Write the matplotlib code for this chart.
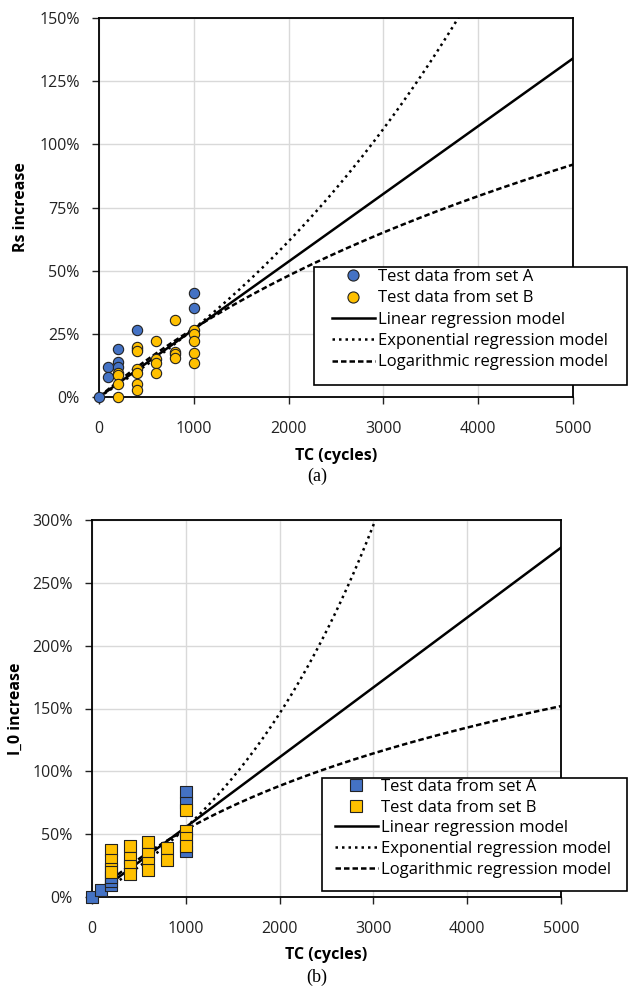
import numpy as np
import matplotlib
matplotlib.use('Agg')
from matplotlib import pyplot as plt
from matplotlib.patches import Rectangle
from matplotlib.ticker import FuncFormatter, MultipleLocator

plt.rcParams['font.family'] = ['Open Sans', 'DejaVu Sans']

# panel (a) - Rs increase, set A / set B test data (cycles, %)
rs_a_x = [0, 100, 100, 200, 200, 200, 400, 400, 1000, 1000]
rs_a_y = [0, 11.7, 8.1, 19.1, 13.7, 12.0, 26.6, 18.8, 41.3, 35.2]
rs_b_x = [200, 200, 200, 200, 400, 400, 400, 400, 400, 400,
          600, 600, 600, 600, 800, 800, 800, 800,
          1000, 1000, 1000, 1000, 1000]
rs_b_y = [9.4, 8.6, 5.1, 0.0, 19.8, 18.2, 10.9, 9.4, 5.2, 2.9,
          22.0, 15.0, 13.3, 9.4, 30.5, 17.8, 16.9, 15.5,
          26.6, 25.0, 22.0, 17.4, 13.5]

# panel (b) - I_0 increase
i0_a_x = [0, 100, 200, 200, 200, 1000, 1000, 1000]
i0_a_y = [0, 5.6, 9.6, 13.0, 16.0, 83.7, 74.5, 36.5]
i0_b_x = [200, 200, 200, 200, 400, 400, 400, 400, 600, 600, 600, 600,
          800, 800, 1000, 1000, 1000, 1000]
i0_b_y = [37.2, 29.2, 22.0, 19.5, 40.4, 31.3, 24.7, 18.6, 44.1, 34.0, 27.4, 21.3,
          38.8, 29.5, 69.1, 52.6, 46.8, 40.6]

# regression models (coefficients)
rs_lin = 0.0268                 # % per cycle
rs_exp = (95.0, 0.25e-3)        # a*(exp(b*x)-1)
rs_log = (92.6, 0.34e-3)        # c*ln(1+d*x)
i0_lin = 0.0556
i0_exp = (85.0, 0.5e-3)
i0_log = (101.0, 0.7e-3)

labels = ['Test data from set A', 'Test data from set B', 'Linear regression model',
          'Exponential regression model', 'Logarithmic regression model']

blue = '#4472C4'
yellow = '#FFC000'
dot = (0, (1, 1.6))
dash = (0, (2.2, 1.2))

W, H = 628, 989
fig = plt.figure(figsize=(W/100, H/100), dpi=100)
ax1 = fig.add_axes([99/W, 1-397/H, 474/W, 379/H])
ax2 = fig.add_axes([92/W, 1-897/H, 469/W, 377/H])

xs = np.linspace(0, 5000, 300)

def draw(ax, ax_x, ax_y, bx, by, marker, size, lin, ex, lg, ymax, ystep, ylabel, ylab_x,
         leg_xy, box, lsp, cap, cap_y):
    ax.plot(xs, lin*xs, color='black', lw=1.8, zorder=2)
    ax.plot(xs, ex[0]*(np.exp(ex[1]*xs)-1), color='black', lw=1.8, ls=dot, zorder=2)
    ax.plot(xs, lg[0]*np.log(1+lg[1]*xs), color='black', lw=1.8, ls=dash, zorder=2)
    ax.scatter(ax_x, ax_y, s=size, marker=marker, color=blue, edgecolors='#222222',
               linewidths=0.8, zorder=3, clip_on=False)
    ax.scatter(bx, by, s=size, marker=marker, color=yellow, edgecolors='#222222',
               linewidths=0.8, zorder=4, clip_on=False)
    ax.set_xlim(0, 5000)
    ax.set_ylim(0, ymax)
    ax.xaxis.set_major_locator(MultipleLocator(1000))
    ax.yaxis.set_major_locator(MultipleLocator(ystep))
    ax.yaxis.set_major_formatter(FuncFormatter(lambda v, p: '%d%%' % round(v)))
    ax.grid(True, color='#d9d9d9', lw=1)
    ax.set_axisbelow(True)
    for s in ax.spines.values():
        s.set_color('black')
        s.set_linewidth(1.3)
    ax.tick_params(direction='out', length=5, width=1, colors='#222222', labelsize=11.5)
    ax.tick_params(axis='x', pad=12)
    ax.tick_params(axis='y', pad=9)
    ax.set_xlabel('TC (cycles)', fontsize=11.5, fontweight='bold')
    ax.xaxis.set_label_coords(0.5, -0.155)
    ax.xaxis.label.set_va('center')
    ax.set_ylabel(ylabel, fontsize=11.5, fontweight='bold')
    ax.yaxis.set_label_coords(ylab_x, 0.5)
    ax.yaxis.label.set_va('center')

    h = [
        plt.Line2D([], [], ls='none', marker=marker, ms=8, mfc=blue, mec='#222222', mew=0.8),
        plt.Line2D([], [], ls='none', marker=marker, ms=8, mfc=yellow, mec='#222222', mew=0.8),
        plt.Line2D([], [], color='black', lw=1.8),
        plt.Line2D([], [], color='black', lw=1.8, ls=dot),
        plt.Line2D([], [], color='black', lw=1.8, ls=dash),
    ]
    x0, y0, x1, y1 = box
    fig.add_artist(Rectangle((x0/W, 1-y1/H), (x1-x0)/W, (y1-y0)/H, transform=fig.transFigure,
                             facecolor='white', edgecolor='black', lw=1.2, zorder=4))
    leg = fig.legend(h, labels, loc='upper left', bbox_to_anchor=(leg_xy[0]/W, 1-leg_xy[1]/H),
                     fontsize=12.0, frameon=False, handlelength=2.55, handletextpad=0.18,
                     labelspacing=lsp, borderpad=0, borderaxespad=0)
    leg.set_zorder(6)
    fig.text(0.505, 1-cap_y/H, cap, ha='center', va='center', fontsize=13,
             family='Liberation Serif')

draw(ax1, rs_a_x, rs_a_y, rs_b_x, rs_b_y, 'o', 55, rs_lin, rs_exp, rs_log, 150, 25,
     'Rs increase', (21-99)/474, (332, 269), (314, 267, 627, 385), 0.32, '(a)', 476)
draw(ax2, i0_a_x, i0_a_y, i0_b_x, i0_b_y, 's', 65, i0_lin, i0_exp, i0_log, 300, 50,
     'I_0 increase', (16-92)/469, (335, 779), (322, 778, 627, 891), 0.28, '(b)', 977)

fig.savefig('out.png', dpi=100)
